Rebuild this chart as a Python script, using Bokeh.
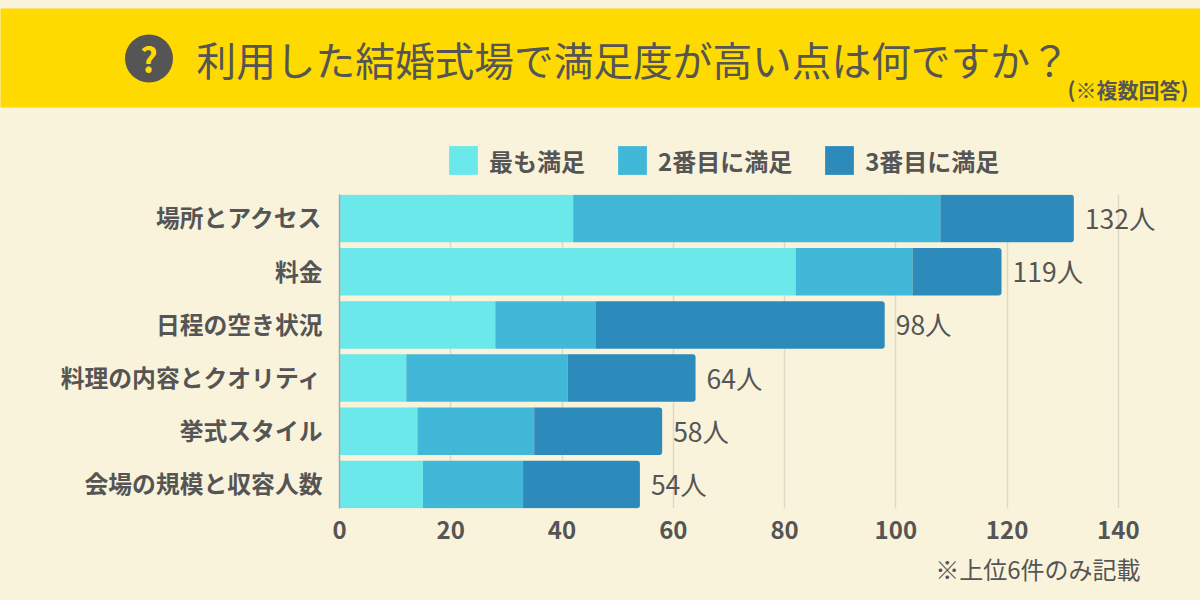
from bokeh.plotting import figure
from bokeh.core.properties import value
from bokeh.models import (ColumnDataSource, LabelSet, Legend, LegendItem, Title,
                          FixedTicker, GlobalInlineStyleSheet)
from bokeh.embed import file_html
from bokeh.resources import INLINE

title = "利用した結婚式場で満足度が高い点は何ですか？"
subtitle = "(※複数回答)"
note = "※上位6件のみ記載"
categories = ["場所とアクセス", "料金", "日程の空き状況", "料理の内容とクオリティ", "挙式スタイル", "会場の規模と収容人数"]
series_names = ["最も満足", "2番目に満足", "3番目に満足"]
first = [42, 82, 28, 12, 14, 15]
second = [66, 21, 18, 29, 21, 18]
third = [24, 16, 52, 23, 23, 21]
colors = ["#6BE8EA", "#41B8D7", "#2C8BBB"]
x_ticks = [0, 20, 40, 60, 80, 100, 120, 140]

INK = "#555555"
CREAM = "#FAF3DC"
YELLOW = "#FFDA00"
FONT = "Noto Sans CJK JP"

ypos = list(range(len(categories)))
totals = [a + b + c for a, b, c in zip(first, second, third)]

# ---- banner and legend ----
top = figure(width=1200, height=194, output_backend="svg", toolbar_location=None,
             x_range=(0, 1200), y_range=(194, 0), x_axis_location=None, y_axis_location=None,
             min_border=0, min_border_left=0, min_border_right=0, min_border_top=0, min_border_bottom=0)
top.stylesheets = [GlobalInlineStyleSheet(css=f"html,body{{margin:0;padding:0;background:{CREAM};overflow:hidden}}")]
top.grid.visible = False
top.background_fill_color = CREAM
top.border_fill_color = CREAM
top.outline_line_color = None
top.quad(left=[-5], right=[1205], top=[8], bottom=[107], fill_color=YELLOW, line_color=None)
top.scatter(x=[148.5], y=[58], size=48, marker="circle", fill_color=INK, line_color=None)

def banner_text(x, y, text, size, style="normal", color=INK, align="left"):
    top.text(x=[x], y=[y], text=[text], text_font=value(FONT), text_font_size=size,
             text_font_style=style, text_color=color, text_align=align, text_baseline="middle")

banner_text(148.5, 58, "?", "34px", "bold", YELLOW, "center")
banner_text(196, 58, title, "39.7px")
banner_text(1188, 88, subtitle, "21px", "bold", INK, "right")

# off-canvas marks: they only carry the legend's swatch colours
swatches = []
for col in colors:
    swatches.append(top.quad(left=[-50], right=[-40], top=[-50], bottom=[-40], fill_color=col, line_color=None))
legend = Legend(items=[LegendItem(label=n, renderers=[r]) for n, r in zip(series_names, swatches)],
                orientation="horizontal", location=(445, 16),
                background_fill_alpha=0, border_line_color=None, padding=0, margin=0,
                glyph_width=36, glyph_height=36, label_standoff=8, spacing=29,
                label_text_font=FONT, label_text_font_size="24px", label_text_font_style="bold",
                label_text_color=INK)
top.add_layout(legend, "center")

# ---- chart ----
p = figure(width=1200, height=406, output_backend="svg", toolbar_location=None,
           x_range=(0, 860.5 / 5.56), y_range=(5.45, -0.45),
           min_border_left=339, min_border_right=0, min_border_top=0, min_border_bottom=92)
p.background_fill_color = CREAM
p.border_fill_color = CREAM
p.outline_line_color = None

p.ygrid.visible = False
p.xgrid.ticker = FixedTicker(ticks=x_ticks[1:])
p.xgrid.grid_line_color = "#DDD9C9"
p.xgrid.grid_line_width = 1.5

p.xaxis.ticker = FixedTicker(ticks=x_ticks)
p.xaxis.axis_line_color = None
p.xaxis.major_tick_line_color = None
p.xaxis.minor_tick_line_color = None
p.xaxis.major_label_standoff = 6
p.xaxis.major_label_text_font = FONT
p.xaxis.major_label_text_font_size = "24px"
p.xaxis.major_label_text_font_style = "bold"
p.xaxis.major_label_text_color = INK

# ticks sit a hair above the bar centres so the labels' optical centre matches
label_ticks = [i - 0.03 for i in ypos]
p.yaxis.ticker = FixedTicker(ticks=label_ticks)
p.yaxis.major_label_overrides = {t: c for t, c in zip(label_ticks, categories)}
p.yaxis.axis_line_color = "#A9A89F"
p.yaxis.axis_line_width = 1.5
p.yaxis.major_tick_line_color = None
p.yaxis.minor_tick_line_color = None
p.yaxis.major_label_standoff = 11
p.yaxis.major_label_text_font = FONT
p.yaxis.major_label_text_font_size = "23.8px"
p.yaxis.major_label_text_font_style = "bold"
p.yaxis.major_label_text_color = INK

left = [0] * len(categories)
for name, vals, col, radius in zip(series_names, [first, second, third], colors, [0, 0, (0, 3, 3, 0)]):
    right = [l + v for l, v in zip(left, vals)]
    src = ColumnDataSource(dict(y=ypos, left=left, right=right))
    p.hbar(y="y", left="left", right="right", height=47.5 / 53.2, source=src,
           fill_color=col, line_color=None, border_radius=radius)
    left = right

val_src = ColumnDataSource(dict(x=totals, y=ypos, t=[f"{v}人" for v in totals]))
p.add_layout(LabelSet(x="x", y="y", text="t", source=val_src, x_offset=11, y_offset=1, text_baseline="middle",
                      text_font=value(FONT), text_font_size="26.5px", text_color=INK, level="overlay"))

p.add_layout(Title(text=note, align="right", offset=60, standoff=15, text_font=FONT, text_font_size="24px",
                   text_font_style="normal", text_color=INK), "below")

open("out.html", "w").write(file_html((top, p), INLINE))
